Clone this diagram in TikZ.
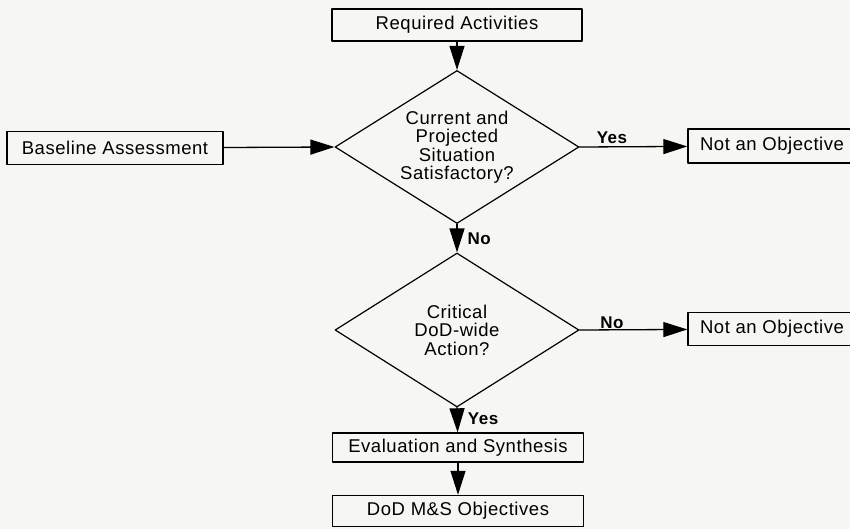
\documentclass[tikz,border=0pt]{standalone}
\usepackage{fontspec}
\setmainfont{Liberation Sans}[LetterSpace=3]
\usetikzlibrary{shapes.geometric,arrows.meta}
\definecolor{paper}{RGB}{246,247,243}

\begin{document}
\begin{tikzpicture}[line cap=round,line join=round,>={Triangle[length=24pt,width=15pt]},x=1pt,y=-1pt,
		box/.style={draw,line width=1.4pt,rectangle,inner sep=0pt,font=\fontsize{18.5}{20}\selectfont},
		decision/.style={draw,line width=1.2pt,diamond,aspect=1.6,inner sep=0pt,align=center,font=\fontsize{18.5}{18.5}\selectfont},
		flow/.style={->,line width=1.3pt},
		answer/.style={font=\bfseries\fontsize{17}{18}\selectfont,inner sep=2pt}]
		\useasboundingbox (0,0) rectangle (850,529);
		\clip (0,0) rectangle (850,529);
		\fill[paper] (0,0) rectangle (850,529);
		% boxes and decisions
		\node[box,minimum width=250pt,minimum height=32pt] (req) at (457,25) {Required Activities};
		\node[decision,minimum width=244pt,minimum height=153pt] (dec1) at (457,147) {Current and\\Projected\\Situation\\Satisfactory?};
		\node[box,minimum width=216pt,minimum height=33pt] (base) at (115,148) {Baseline Assessment};
		\node[box,minimum width=168pt,minimum height=34pt] (noobj1) at (772,146) {Not an Objective};
		\node[decision,minimum width=244pt,minimum height=154pt] (dec2) at (457,330) {Critical\\DoD-wide\\Action?};
		\node[box,minimum width=168pt,minimum height=33pt] (noobj2) at (772,329) {Not an Objective};
		\node[box,minimum width=251pt,minimum height=29pt] (eval) at (458,447.5) {Evaluation and Synthesis};
		\node[box,minimum width=251pt,minimum height=31pt] (mso) at (458,511) {DoD M\&S Objectives};
		% connectors
		\draw[flow] (req) -- (dec1.north);
		\draw[flow] (base) -- (dec1.west);
		\draw[flow] (dec1.east) -- node[answer,pos=0.3,above=1pt] {Yes} (noobj1);
		\draw[flow] (dec1.south) -- node[answer,right=8pt] {No} (dec2.north);
		\draw[flow] (dec2.east) -- node[answer,pos=0.3,above=-1pt] {No} (noobj2);
		\draw[flow] (dec2.south) -- node[answer,pos=0.45,right=8pt] {Yes} (eval);
		\draw[flow] (eval) -- (mso);
	\end{tikzpicture}
\end{document}
